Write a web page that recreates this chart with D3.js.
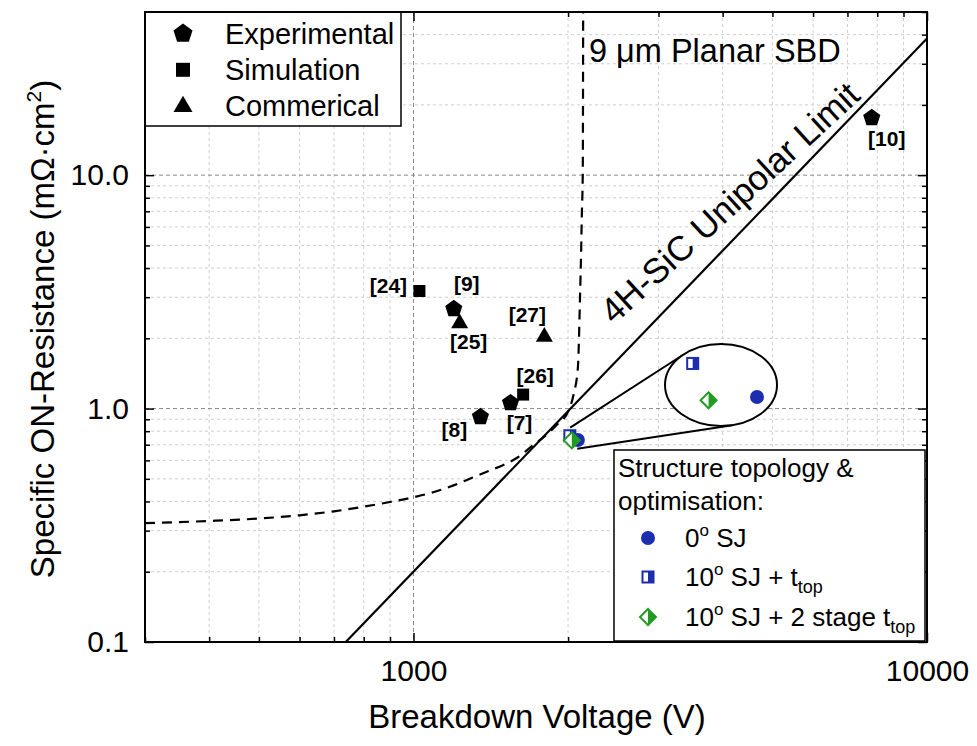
<!DOCTYPE html>
<html lang="en">
<head>
  <meta charset="utf-8">
  <title>Specific ON-resistance vs breakdown voltage</title>
  <style>
    body { margin: 0; background: #fff; }
    svg text { font-family: "Liberation Sans", Arial, sans-serif; fill: #000; }
    .tick text { font-size: 30px; }
  </style>
</head>
<body>
<div id="chart"></div>
<script src="https://d3js.org/d3.v7.min.js"></script>
<script>
  // ---- data ----
  const expRefs = ["[9]", "[7]", "[8]", "[10]"];
  const expV = [1198, 1545, 1350, 7806];
  const expR = [2.69, 1.064, 0.927, 17.7];

  const simRefs = ["[24]", "[26]"];
  const simV = [1027, 1635];
  const simR = [3.19, 1.148];

  const comRefs = ["[25]", "[27]"];
  const comV = [1230, 1798];
  const comR = [2.32, 2.03];

  // 0 deg SJ, 10 deg SJ + t_top, 10 deg SJ + 2 stage t_top
  const sjV = [2090, 2016, 2034];
  const sjR = [0.734, 0.765, 0.731];

  // 4H-SiC unipolar limit (straight on log-log)
  const limitV = [738, 10000];
  const limitR = [0.1, 38.5];

  // 9 um planar SBD
  const sbdV = [300, 400, 500, 600, 700, 800, 900, 1000, 1100, 1200, 1300, 1400, 1500, 1600, 1700, 1800, 1900, 2000, 2050, 2090, 2110, 2120, 2128, 2136, 2140];
  const sbdR = [0.323, 0.330, 0.338, 0.349, 0.363, 0.380, 0.398, 0.417, 0.44, 0.47, 0.505, 0.54, 0.575, 0.62, 0.69, 0.76, 0.85, 0.97, 1.15, 1.5, 3.0, 4.6, 7, 10, 50];

  const xMajor = [1000, 10000];
  const yMajor = [0.1, 1, 10];

  // ---- layout ----
  const width = 977, height = 746;
  const plot = { left: 145, right: 927, top: 12, bottom: 642 };
  const blue = "#1c2db0", green = "#239b23";

  const svg = d3.select("#chart").append("svg")
    .attr("width", width).attr("height", height);

  const x = d3.scaleLog().domain([300, 10000]).range([plot.left, plot.right]);
  const y = d3.scaleLog().domain([0.1, 50]).range([plot.bottom, plot.top]);

  const xMinor = [], yMinor = [];
  for (const dec of [100, 1000]) for (let k = 2; k <= 9; k++) if (dec * k >= 300) xMinor.push(dec * k);
  for (const dec of [0.1, 1, 10]) for (let k = 2; k <= 9; k++) if (dec * k <= 50) yMinor.push(dec * k);

  svg.append("clipPath").attr("id", "clip").append("rect")
    .attr("x", plot.left).attr("y", plot.top)
    .attr("width", plot.right - plot.left).attr("height", plot.bottom - plot.top);

  // grid
  const grid = svg.append("g");
  grid.selectAll(".gxm").data(xMinor).join("line")
    .attr("x1", d => x(d)).attr("x2", d => x(d)).attr("y1", plot.top).attr("y2", plot.bottom)
    .attr("stroke", "#cfcfcf").attr("stroke-dasharray", "3,3");
  grid.selectAll(".gym").data(yMinor).join("line")
    .attr("y1", d => y(d)).attr("y2", d => y(d)).attr("x1", plot.left).attr("x2", plot.right)
    .attr("stroke", "#cfcfcf").attr("stroke-dasharray", "3,3");
  grid.selectAll(".gxM").data([1000]).join("line")
    .attr("x1", d => x(d)).attr("x2", d => x(d)).attr("y1", plot.top).attr("y2", plot.bottom)
    .attr("stroke", "#8a8a8a").attr("stroke-dasharray", "4,3");
  grid.selectAll(".gyM").data([1, 10]).join("line")
    .attr("y1", d => y(d)).attr("y2", d => y(d)).attr("x1", plot.left).attr("x2", plot.right)
    .attr("stroke", "#8a8a8a").attr("stroke-dasharray", "4,3");

  // axes (ticks point inward)
  const clean = g => { g.select(".domain").remove(); g.selectAll("line").attr("stroke-width", 1.5); };
  svg.append("g").attr("transform", `translate(0,${plot.bottom})`)
    .call(d3.axisBottom(x).tickValues(xMinor).tickFormat("").tickSize(-5).tickSizeOuter(0)).call(clean);
  svg.append("g").attr("transform", `translate(0,${plot.bottom})`)
    .call(d3.axisBottom(x).tickValues(xMajor).tickFormat(d3.format("d")).tickSize(-9).tickSizeOuter(0).tickPadding(18))
    .call(clean);
  svg.append("g").attr("transform", `translate(0,${plot.top})`)
    .call(d3.axisTop(x).tickValues(xMinor).tickFormat("").tickSize(-5).tickSizeOuter(0)).call(clean);
  svg.append("g").attr("transform", `translate(0,${plot.top})`)
    .call(d3.axisTop(x).tickValues(xMajor).tickFormat("").tickSize(-9).tickSizeOuter(0)).call(clean);
  svg.append("g").attr("transform", `translate(${plot.left},0)`)
    .call(d3.axisLeft(y).tickValues(yMinor).tickFormat("").tickSize(-5).tickSizeOuter(0)).call(clean);
  svg.append("g").attr("class", "ylab").attr("transform", `translate(${plot.left},0)`)
    .call(d3.axisLeft(y).tickValues(yMajor).tickFormat(d3.format(".1f")).tickSize(-9).tickSizeOuter(0).tickPadding(16))
    .call(clean);
  svg.append("g").attr("transform", `translate(${plot.right},0)`)
    .call(d3.axisRight(y).tickValues(yMinor).tickFormat("").tickSize(-5).tickSizeOuter(0)).call(clean);
  svg.append("g").attr("transform", `translate(${plot.right},0)`)
    .call(d3.axisRight(y).tickValues(yMajor).tickFormat("").tickSize(-9).tickSizeOuter(0)).call(clean);
  svg.selectAll(".tick text").attr("fill", "#000").attr("font-family", null).attr("font-size", null);

  // curves
  const curves = svg.append("g").attr("clip-path", "url(#clip)");
  curves.append("path")
    .datum(d3.zip(limitV, limitR))
    .attr("d", d3.line().x(d => x(d[0])).y(d => y(d[1])))
    .attr("fill", "none").attr("stroke", "#000").attr("stroke-width", 2.2);
  curves.append("path")
    .datum(d3.zip(sbdV, sbdR))
    .attr("d", d3.line().x(d => x(d[0])).y(d => y(d[1])).curve(d3.curveMonotoneX))
    .attr("fill", "none").attr("stroke", "#000").attr("stroke-width", 2.2)
    .attr("stroke-dasharray", "10,7");

  // marker shapes
  const pentagon = r => "M" + d3.range(5).map(i => {
    const a = -Math.PI / 2 + i * 2 * Math.PI / 5;
    return [r * Math.cos(a), r * Math.sin(a) + 0.6].join(",");
  }).join("L") + "Z";
  const triangle = s => d3.symbol(d3.symbolTriangle, Math.sqrt(3) / 4 * s * s)();
  const square = s => d3.symbol(d3.symbolSquare, s * s)();

  function halfSquare(g, s) {
    g.append("rect").attr("x", -s / 2).attr("y", -s / 2).attr("width", s).attr("height", s)
      .attr("fill", "#fff").attr("stroke", blue).attr("stroke-width", 2);
    g.append("rect").attr("x", 0).attr("y", -s / 2).attr("width", s / 2).attr("height", s)
      .attr("fill", blue);
  }
  function halfDiamond(g, h) {
    g.append("path").attr("d", `M0,${-h}L${h},0L0,${h}L${-h},0Z`)
      .attr("fill", "#fff").attr("stroke", green).attr("stroke-width", 2);
    g.append("path").attr("d", `M0,${-h}L${h},0L0,${h}Z`).attr("fill", green);
  }
  function dot(g, r) {
    g.append("circle").attr("r", r).attr("fill", blue);
  }
  const sjDraw = [g => dot(g, 7), g => halfSquare(g, 11), g => halfDiamond(g, 8)];

  // literature points
  const pts = svg.append("g");
  const labelOffset = {
    "[9]": [13, -17], "[7]": [9, 28], "[8]": [-26, 21], "[10]": [15, 29],
    "[24]": [-31, 2], "[26]": [12, -12], "[25]": [9, 26], "[27]": [-17, -15]
  };
  const groups = [
    { refs: expRefs, v: expV, r: expR, d: pentagon(9) },
    { refs: simRefs, v: simV, r: simR, d: square(12) },
    { refs: comRefs, v: comV, r: comR, d: triangle(17) }
  ];
  groups.forEach(gr => {
    pts.selectAll(null).data(d3.range(gr.v.length)).join("path")
      .attr("transform", i => `translate(${x(gr.v[i])},${y(gr.r[i])})`)
      .attr("d", gr.d).attr("fill", "#000");
    pts.selectAll(null).data(d3.range(gr.v.length)).join("text")
      .attr("x", i => x(gr.v[i]) + labelOffset[gr.refs[i]][0])
      .attr("y", i => y(gr.r[i]) + labelOffset[gr.refs[i]][1])
      .attr("text-anchor", "middle").attr("font-size", 21).attr("font-weight", "bold")
      .text(i => gr.refs[i]);
  });

  // SJ cluster in main plot
  sjDraw.forEach((draw, i) => {
    draw(pts.append("g").attr("transform", `translate(${x(sjV[i])},${y(sjR[i])})`));
  });

  // inset (magnified view of the cluster)
  const ell = { cx: 721, cy: 385, a: 56, b: 41 };
  const mag = 8, insetRef = [757, 397];
  const cx0 = d3.mean(sjV, v => x(v)), cy0 = d3.mean(sjR, r => y(r));
  function tangent(sx, sy, side) {
    const px = (sx - ell.cx) / ell.a, py = (sy - ell.cy) / ell.b;
    const t = Math.atan2(py, px) + side * Math.acos(1 / Math.hypot(px, py));
    return [ell.cx + ell.a * Math.cos(t), ell.cy + ell.b * Math.sin(t)];
  }
  const inset = svg.append("g");
  const sTop = [cx0 - 3, cy0 - 11], sBot = [cx0 + 4, cy0 + 10];
  [[sTop, tangent(sTop[0], sTop[1], 1)], [sBot, tangent(sBot[0], sBot[1], -1)]].forEach(([p, q]) => {
    inset.append("line").attr("x1", p[0]).attr("y1", p[1]).attr("x2", q[0]).attr("y2", q[1])
      .attr("stroke", "#000").attr("stroke-width", 2);
  });
  inset.append("ellipse").attr("cx", ell.cx).attr("cy", ell.cy).attr("rx", ell.a).attr("ry", ell.b)
    .attr("fill", "#fff").attr("stroke", "#000").attr("stroke-width", 2);
  const ix = v => insetRef[0] + mag * (x(v) - x(sjV[0]));
  const iy = r => insetRef[1] + mag * (y(r) - y(sjR[0]));
  sjDraw.forEach((draw, i) => {
    draw(inset.append("g").attr("transform", `translate(${ix(sjV[i])},${iy(sjR[i])})`));
  });

  // annotations
  svg.append("text").attr("x", 589).attr("y", 62).attr("font-size", 32.5).text("9 μm Planar SBD");
  svg.append("text").attr("text-anchor", "end").attr("font-size", 35)
    .attr("transform", "translate(862,98) rotate(-42.5)")
    .text("4H-SiC Unipolar Limit");

  // legend 1
  const lg1 = svg.append("g");
  lg1.append("rect").attr("x", plot.left).attr("y", plot.top).attr("width", 256).attr("height", 114)
    .attr("fill", "#fff").attr("stroke", "#000").attr("stroke-width", 1.5);
  const lg1Items = [["Experimental", pentagon(10)], ["Simulation", square(14)], ["Commerical", triangle(19)]];
  lg1Items.forEach(([name, d], i) => {
    lg1.append("path").attr("d", d).attr("transform", `translate(183,${33 + i * 36.8})`).attr("fill", "#000");
    lg1.append("text").attr("x", 225).attr("y", 43.5 + i * 36.3).attr("font-size", 29).text(name);
  });

  // legend 2
  const lg2 = svg.append("g");
  lg2.append("rect").attr("x", 614).attr("y", 450).attr("width", 311).attr("height", 191)
    .attr("fill", "#fff").attr("stroke", "#000").attr("stroke-width", 1.5);
  lg2.append("text").attr("x", 618).attr("y", 477).attr("font-size", 26).text("Structure topology &");
  lg2.append("text").attr("x", 618).attr("y", 510).attr("font-size", 26).text("optimisation:");
  const lg2Y = [538, 577, 617];
  sjDraw.forEach((draw, i) => draw(lg2.append("g").attr("transform", `translate(648,${lg2Y[i]})`)));
  const t0 = lg2.append("text").attr("x", 685).attr("y", lg2Y[0] + 9).attr("font-size", 26);
  t0.append("tspan").text("0");
  t0.append("tspan").attr("font-size", 17).attr("dy", -11).text("o");
  t0.append("tspan").attr("dy", 11).text(" SJ");
  [[1, "10", " SJ + t"], [2, "10", " SJ + 2 stage t"]].forEach(([i, a, b]) => {
    const t = lg2.append("text").attr("x", 685).attr("y", lg2Y[i] + 9).attr("font-size", 26);
    t.append("tspan").text(a);
    t.append("tspan").attr("font-size", 17).attr("dy", -11).text("o");
    t.append("tspan").attr("dy", 11).text(b);
    t.append("tspan").attr("font-size", 18).attr("dy", 7).text("top");
  });

  // frame
  svg.append("rect").attr("x", plot.left).attr("y", plot.top)
    .attr("width", plot.right - plot.left).attr("height", plot.bottom - plot.top)
    .attr("fill", "none").attr("stroke", "#000").attr("stroke-width", 2);

  // axis titles
  svg.append("text").attr("x", 537).attr("y", 728)
    .attr("text-anchor", "middle").attr("font-size", 33).text("Breakdown Voltage (V)");
  const yt = svg.append("text").attr("transform", `translate(54,${(plot.top + plot.bottom) / 2 + 2}) rotate(-90)`)
    .attr("text-anchor", "middle").attr("font-size", 33);
  yt.append("tspan").text("Specific ON-Resistance (mΩ·cm");
  yt.append("tspan").attr("font-size", 21).attr("dy", -13).text("2");
  yt.append("tspan").attr("dy", 13).text(")");
</script>
</body>
</html>
